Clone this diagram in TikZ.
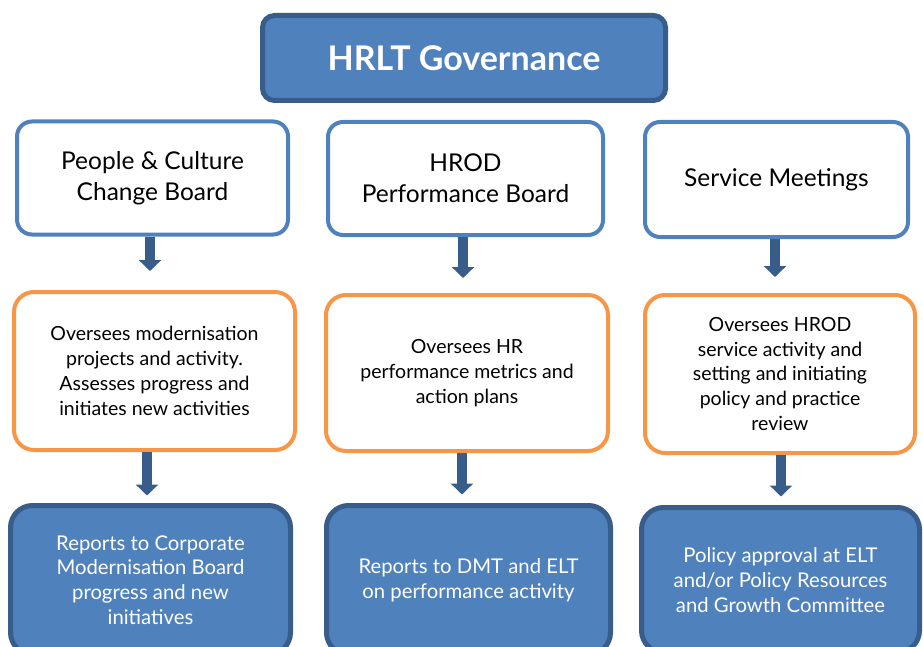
\documentclass[tikz,border=0pt]{standalone}
\usepackage{fontspec}
\setmainfont{Lato}
\usetikzlibrary{arrows.meta}
\definecolor{boxblue}{HTML}{4F81BD}
\definecolor{darkblue}{HTML}{385D8A}
\definecolor{boxorange}{HTML}{F79646}
\tikzstyle{title}=[rectangle,rounded corners=12pt,draw=darkblue,line width=5pt,fill=boxblue,text=white,font=\fontsize{34}{38}\selectfont\bfseries,minimum width=403pt,minimum height=85pt]
\tikzstyle{board}=[rectangle,rounded corners=15pt,draw=boxblue,line width=4pt,fill=white,align=center,font=\fontsize{24.5}{31}\selectfont,minimum height=113pt]
\tikzstyle{remit}=[rectangle,rounded corners=20pt,draw=boxorange,line width=4pt,fill=white,align=center,font=\fontsize{19.5}{24.8}\selectfont,minimum height=157pt]
\tikzstyle{report}=[rectangle,rounded corners=22pt,draw=darkblue,line width=5pt,fill=boxblue,text=white,align=center,font=\fontsize{20.3}{24.8}\selectfont,minimum height=149pt]
\tikzstyle{down}=[darkblue,line width=10pt,-{Triangle[width=22pt,length=11pt]}]

\begin{document}
\begin{tikzpicture}[x=1pt,y=-1pt]
\clip (0, 0) rectangle (923, 647);

\node[title] at (464, 58) (gov) {HRLT Governance};

\node[board, minimum width=271pt] at (152.5, 178) (c1) {People \& Culture\\Change Board};
\node[board, minimum width=275pt] at (465.5, 178.5) (c2) {HROD\\Performance Board};
\node[board, minimum width=263pt, minimum height=115pt] at (776.5, 179.5) (c3) {Service Meetings};

\node[remit, minimum width=281pt, minimum height=158pt] at (154.5, 371) (o1) {Oversees modernisation\\projects and activity.\\Assesses progress and\\initiates new activities};
\node[remit, minimum width=282pt, minimum height=156pt] at (467, 373) (o2) {Oversees HR\\performance metrics and\\action plans};
\node[remit, minimum width=270pt, minimum height=158pt] at (780, 374) (o3) {Oversees HROD\\service activity and\\setting and initiating\\policy and practice\\review};

\node[report, minimum width=280pt] at (150.5, 580) (r1) {Reports to Corporate\\Modernisation Board\\progress and new\\initiatives};
\node[report, minimum width=284pt] at (468.5, 580) (r2) {Reports to DMT and ELT\\on performance activity};
\node[report, minimum width=278pt, minimum height=145pt] at (780.5, 580) (r3) {Policy approval at ELT\\and/or Policy Resources\\and Growth Committee};

% board -> remit
\draw[down, shorten >=19pt] ([xshift=-2.5pt]c1.south) -- ([xshift=-2.5pt]c1.south |- o1.north);
\draw[down, shorten >=15pt] ([xshift=-2.5pt]c2.south) -- ([xshift=-2.5pt]c2.south |- o2.north);
\draw[down, shorten >=16pt] ([xshift=-1.5pt]c3.south) -- ([xshift=-1.5pt]c3.south |- o3.north);

% remit -> report
\draw[down, shorten >=7.5pt] ([xshift=-7.5pt]o1.south) -- ([xshift=-7.5pt]o1.south |- r1.north);
\draw[down, shorten >=8.5pt] ([xshift=-5pt]o2.south) -- ([xshift=-5pt]o2.south |- r2.north);
\draw[down, shorten >=8.5pt] ([xshift=1pt]o3.south) -- ([xshift=1pt]o3.south |- r3.north);

\end{tikzpicture}
\end{document}
